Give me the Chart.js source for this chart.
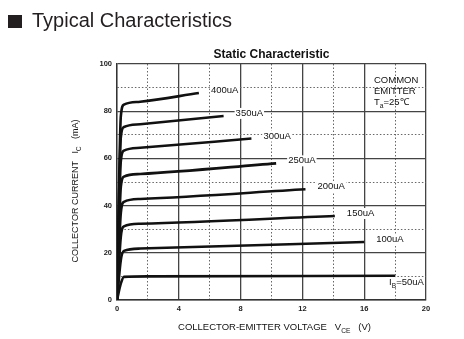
<!DOCTYPE html>
<html>
<head>
<meta charset="utf-8">
<script src="https://cdn.jsdelivr.net/npm/chart.js@4"></script>
<style>
  body { margin: 0; background: #fff; }
  #wrap { position: relative; width: 464px; height: 339px; }
  #head { position: absolute; left: 32px; top: 10px; font: 20px "Liberation Sans", Arial, sans-serif; line-height: 20px; color: #231f20; z-index: 2; }
  #sq { position: absolute; left: 8px; top: 15px; width: 14px; height: 13px; background: #231f20; z-index: 2; }
  #box { position: absolute; left: 0; top: 0; width: 464px; height: 339px; }
</style>
</head>
<body>
<div id="wrap">
  <div id="sq"></div>
  <div id="head">Typical Characteristics</div>
  <div id="box"><canvas id="myChart"></canvas></div>
</div>
<script>
// base current of each curve
const baseCurrents = ['50uA', '100uA', '150uA', '200uA', '250uA', '300uA', '350uA', '400uA'];

// VCE (V) / IC (mA) points per curve
const vce50 = [0, 0.25, 0.45, 2, 18];
const ic50 = [0, 7, 9.8, 10, 10.3];
const vce100 = [0, 0.25, 0.45, 1.5, 16];
const ic100 = [0, 17, 20.8, 21.8, 24.6];
const vce150 = [0, 0.25, 0.45, 1.5, 14.1];
const ic150 = [0, 27, 31.2, 32.3, 35.6];
const vce200 = [0, 0.25, 0.45, 1.5, 12.2];
const ic200 = [0, 37, 41.6, 42.8, 46.9];
const vce250 = [0, 0.25, 0.45, 1.5, 10.3];
const ic250 = [0, 48, 52.3, 53.4, 57.9];
const vce300 = [0, 0.25, 0.45, 1.5, 8.7];
const ic300 = [0, 59, 63.3, 64.5, 68.4];
const vce350 = [0, 0.25, 0.45, 1.5, 6.9];
const ic350 = [0, 69, 73.3, 74.5, 78];
const vce400 = [0, 0.25, 0.45, 1.5, 5.3];
const ic400 = [0, 78, 82.8, 84, 87.7];

const vceList = [vce50, vce100, vce150, vce200, vce250, vce300, vce350, vce400];
const icList = [ic50, ic100, ic150, ic200, ic250, ic300, ic350, ic400];

// axis ticks
const xTicks = [0, 4, 8, 12, 16, 20];
const yTicks = [0, 20, 40, 60, 80, 100];

const FONT = '"Liberation Sans", Arial, sans-serif';

function pts(xs, ys) {
    return xs.map((x, i) => ({x: x, y: ys[i]}));
}

// text with subscripts: runs = [[text, isSub], ...]
function runsWidth(ctx, runs, size) {
    let w = 0;
    runs.forEach(([t, sub]) => {
        ctx.font = (sub ? size * 0.7 : size) + 'px ' + FONT;
        w += ctx.measureText(t).width;
    });
    return w;
}
function drawRuns(ctx, runs, x, y, size) {
    let cx = x;
    runs.forEach(([t, sub]) => {
        ctx.font = (sub ? size * 0.7 : size) + 'px ' + FONT;
        ctx.fillText(t, cx, sub ? y + size * 0.4 : y);
        cx += ctx.measureText(t).width;
    });
}

const annotate = {
    id: 'annotate',
    afterDatasetsDraw(chart) {
        const ctx = chart.ctx;
        ctx.save();
        ctx.textBaseline = 'middle';
        chart.data.datasets.forEach((ds, i) => {
            const pts = chart.getDatasetMeta(i).data;
            const end = pts[pts.length - 1];
            const runs = i === 0 ? [['I', false], ['B', true], ['=' + ds.label, false]] : [[ds.label, false]];
            const w = runsWidth(ctx, runs, 9.5);
            let x = end.x + 12, y = end.y - 2.5;
            if (i === 0) { x = end.x - 6; y = end.y + 7; }
            ctx.fillStyle = '#fff';
            ctx.fillRect(x - 1, y - 5.5, w + 2, 11);
            ctx.fillStyle = '#111';
            drawRuns(ctx, runs, x, y, 9.5);
        });
        ctx.restore();
    },
    afterDraw(chart) {
        const ctx = chart.ctx;
        const a = chart.chartArea;
        ctx.save();
        ctx.fillStyle = '#111';
        ctx.textBaseline = 'middle';

        // chart title, centred over the plot area
        ctx.font = 'bold 12px ' + FONT;
        ctx.textAlign = 'center';
        ctx.fillText('Static Characteristic', (a.left + a.right) / 2, a.top - 9);
        ctx.textAlign = 'left';

        // x axis title
        const xr = [['COLLECTOR-EMITTER VOLTAGE   V', false], ['CE', true], ['   (V)', false]];
        const xw = runsWidth(ctx, xr, 9.5);
        drawRuns(ctx, xr, (a.left + a.right) / 2 + 3 - xw / 2, 327, 9.5);

        // y axis title
        const yr = [['COLLECTOR CURRENT   I', false], ['C', true], ['   (mA)', false]];
        const yw = runsWidth(ctx, yr, 9);
        ctx.save();
        ctx.translate(76, (a.top + a.bottom) / 2 + 9);
        ctx.rotate(-Math.PI / 2);
        drawRuns(ctx, yr, -yw / 2, 0, 9);
        ctx.restore();

        // test condition note
        const nx = a.right - 52;
        drawRuns(ctx, [['COMMON', false]], nx, a.top + 16, 9.5);
        drawRuns(ctx, [['EMITTER', false]], nx, a.top + 27, 9.5);
        drawRuns(ctx, [['T', false], ['a', true], ['=25\u2103', false]], nx, a.top + 38, 9.5);
        ctx.restore();
    }
};

const datos = {
    datasets: baseCurrents.map((lbl, i) => ({
        label: lbl,
        data: pts(vceList[i], icList[i]),
        borderColor: '#111',
        borderWidth: 2.6,
        pointRadius: 0,
        tension: 0.4,
        cubicInterpolationMode: 'monotone',
        fill: false
    }))
};

function gridOpts(major) {
    return {
        grid: {
            drawTicks: false,
            color: ctx => (ctx.tick && ctx.tick.value % major !== 0) ? '#666' : '#444',
            lineWidth: ctx => (ctx.tick && ctx.tick.value % major !== 0) ? 1 : 1.3
        },
        border: {
            display: true,
            color: '#333',
            width: 1.4,
            dash: ctx => (ctx.tick && ctx.tick.value % major !== 0) ? [1.5, 2] : []
        }
    };
}

new Chart(document.getElementById('myChart'), {
    type: 'line',
    data: datos,
    plugins: [annotate],
    options: {
        responsive: true,
        maintainAspectRatio: false,
        animation: false,
        layout: { padding: { left: 0, right: 38, top: 64, bottom: 0 } },
        plugins: {
            legend: { display: false },
            tooltip: { enabled: false },
            title: { display: false }
        },
        scales: {
            x: Object.assign({
                type: 'linear',
                min: 0,
                max: 20,
                afterFit: s => { s.height = 39; },
                ticks: {
                    stepSize: 2,
                    padding: 4,
                    color: '#222',
                    font: { family: FONT, size: 7.5, weight: 'bold' },
                    callback: v => xTicks.includes(v) ? v : ''
                }
            }, gridOpts(4)),
            y: Object.assign({
                min: 0,
                max: 100,
                afterFit: s => { s.width = 117; },
                ticks: {
                    stepSize: 10,
                    padding: 5,
                    color: '#222',
                    font: { family: FONT, size: 7.5, weight: 'bold' },
                    callback: v => yTicks.includes(v) ? v : ''
                }
            }, gridOpts(20))
        }
    }
});
</script>
</body>
</html>
